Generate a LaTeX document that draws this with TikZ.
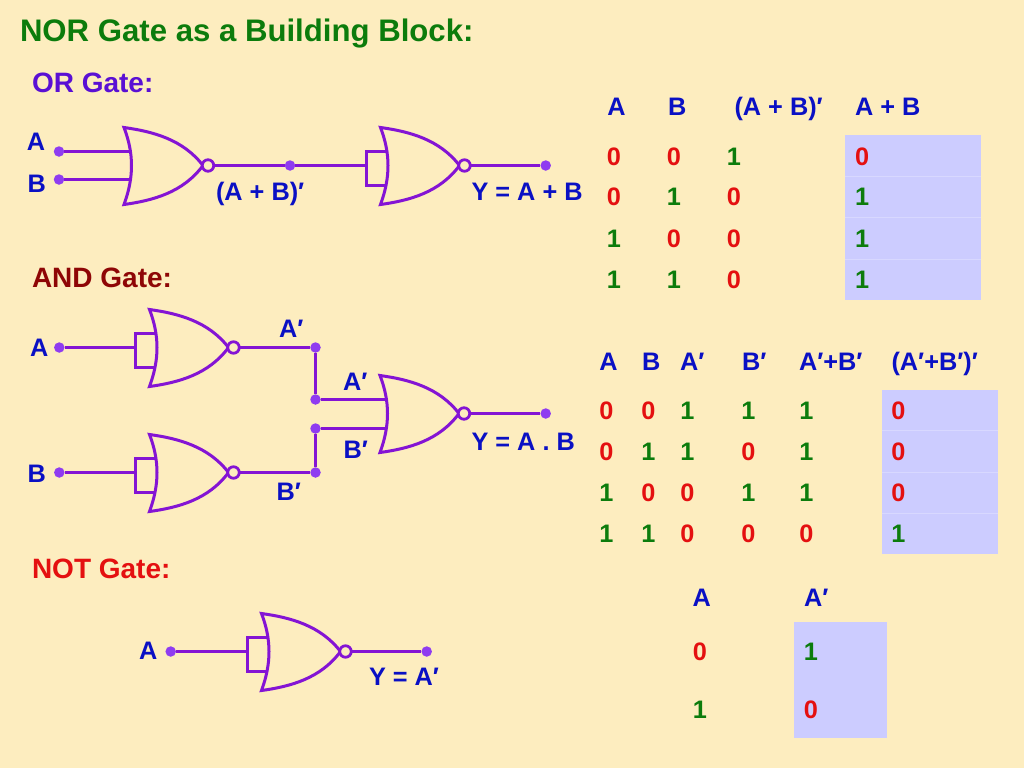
\documentclass[tikz,border=0pt]{standalone}
\usepackage{fontspec}
\setmainfont{Liberation Sans}
\definecolor{bg}{HTML}{FDEDBF}
\definecolor{wire}{HTML}{8414D4}
\definecolor{dotc}{HTML}{8F3CF0}
\definecolor{lblue}{HTML}{0A10C4}
\definecolor{tgreen}{HTML}{0C7C0C}
\definecolor{tred}{HTML}{E41010}
\definecolor{tpurple}{HTML}{5A10D4}
\definecolor{tmaroon}{HTML}{8E0606}
\definecolor{tablefill}{HTML}{CCCCFF}
\definecolor{tablesep}{HTML}{D8D8FF}
\tikzset{
  txt/.style={inner sep=0pt,outer sep=0pt,anchor=base west,font=\fontsize{25.3}{25}\selectfont\bfseries},
  lbl/.style={txt,text=lblue},
  bit0/.style={txt,text=tred},
  bit1/.style={txt,text=tgreen},
  heading/.style={txt,font=\fontsize{28}{28}\selectfont\bfseries},
  title/.style={txt,font=\fontsize{31.15}{31}\selectfont\bfseries,text=tgreen},
  wireline/.style={draw=wire,line width=3pt},
  dot/.style={circle,fill=dotc,inner sep=0pt,outer sep=0pt,minimum size=10.5pt},
  bubble/.style={circle,draw=wire,line width=2.8pt,fill=bg,inner sep=0pt,outer sep=0pt,minimum size=11.5pt},
  tablebox/.style={fill=tablefill},
  tableline/.style={draw=tablesep,line width=0.7pt},
  nor/.pic={
    \draw[wireline,line join=miter] (-5,0) .. controls (-25,-26) and (-55,-34) .. (-84,-38)
      .. controls (-74,-12) and (-74,12) .. (-84,39)
      .. controls (-55,35) and (-25,27) .. (-5,0);
    \node[bubble] (-b) at (0,0) {};
    \coordinate (-in) at (-77,0);
  },
  norshort/.pic={
    \draw[wireline] (-78,-14) -- (-98,-14) -- (-98,20) -- (-78,20);
    \draw[wireline,line join=miter] (-5,0) .. controls (-25,-26) and (-55,-34) .. (-84,-38)
      .. controls (-74,-12) and (-74,12) .. (-84,39)
      .. controls (-55,35) and (-25,27) .. (-5,0);
    \node[bubble] (-b) at (0,0) {};
    \coordinate (-in) at (-98,0);
  }
}
\begin{document}
\begin{tikzpicture}[x=1pt,y=-1pt]
\useasboundingbox (0,0) rectangle (1024,768);
\fill[bg] (0,0) rectangle (1024,768);

% headings
\node[title] (title) at (20,41.5) {NOR Gate as a Building Block:};
\node[heading,text=tpurple] (hor) at (32,92) {OR Gate:};
\node[heading,text=tmaroon] (hand) at (32,287) {AND Gate:};
\node[heading,text=tred] (hnot) at (32,578) {NOT Gate:};

% OR circuit
\pic (g1) at (208,165.5) {nor};
\pic (g2) at (464.5,165.5) {norshort};
\node[dot] (oa) at (59,151.5) {};
\node[dot] (ob) at (59,179.5) {};
\node[dot] (om) at (290,165.5) {};
\node[dot] (oy) at (545.7,165.5) {};
\draw[wireline] (oa) -- (oa -| g1-in);
\draw[wireline] (ob) -- (ob -| g1-in);
\draw[wireline] (g1-b) -- (om);
\draw[wireline] (om) -- (g2-in);
\draw[wireline] (g2-b) -- (oy);
\node[lbl] (loa) at (27,150) {A};
\node[lbl] (lob) at (27.5,192) {B};
\node[lbl] (lom) at (216,200) {(A + B)′};
\node[lbl] (loy) at (471.5,200) {Y = A + B};

% AND circuit
\pic (g3) at (233.5,347.5) {norshort};
\pic (g4) at (233.5,472.5) {norshort};
\pic (g5) at (464,413.5) {nor};
\node[dot] (aa) at (59.3,347.5) {};
\node[dot] (ab) at (59.3,472.5) {};
\node[dot] (a1) at (315.5,347.5) {};
\node[dot] (a2) at (315.5,399.5) {};
\node[dot] (a3) at (315.5,428.5) {};
\node[dot] (a4) at (315.5,472.5) {};
\node[dot] (ay) at (545.7,413.5) {};
\draw[wireline] (aa) -- (g3-in);
\draw[wireline] (ab) -- (g4-in);
\draw[wireline] (g3-b) -- (a1);
\draw[wireline] (a1) -- (a2);
\draw[wireline] (a2) -- (a2 -| g5-in);
\draw[wireline] (g4-b) -- (a4);
\draw[wireline] (a4) -- (a3);
\draw[wireline] (a3) -- (a3 -| g5-in);
\draw[wireline] (g5-b) -- (ay);
\node[lbl] (laa) at (30,356.7) {A};
\node[lbl] (lab) at (27.5,482.7) {B};
\node[lbl] (la1) at (279,337.7) {A′};
\node[lbl] (la4) at (276.5,500) {B′};
\node[lbl] (la2) at (343,390.7) {A′};
\node[lbl] (la3) at (343.5,458.3) {B′};
\node[lbl] (lay) at (471.5,450.7) {Y = A . B};

% NOT circuit
\pic (g6) at (345.5,651.5) {norshort};
\node[dot] (na) at (170.7,651.5) {};
\node[dot] (ny) at (426.7,651.5) {};
\draw[wireline] (na) -- (g6-in);
\draw[wireline] (g6-b) -- (ny);
\node[lbl] (lna) at (139,659.3) {A};
\node[lbl] (lny) at (369,685.7) {Y = A′};

% Table 1
\fill[tablebox] (845,135) rectangle (980.7,299.7);
\foreach \s in {176.7,217.7,259} \draw[tableline] (845,\s) -- (980.7,\s);
\node[lbl] (t1a) at (607.3,115) {A};
\node[lbl] (t1b) at (668,115) {B};
\node[lbl] (t1c) at (734.5,115) {(A + B)′};
\node[lbl] (t1d) at (855,115) {A + B};
\foreach \r/\y/\p/\q/\u/\w in {1/165/0/0/1/0,2/205.7/0/1/0/1,3/247/1/0/0/1,4/288/1/1/0/1}{
  \node[bit\p] (t1-\r-a) at (606.8,\y) {\p};
  \node[bit\q] (t1-\r-b) at (666.8,\y) {\q};
  \node[bit\u] (t1-\r-c) at (726.8,\y) {\u};
  \node[bit\w] (t1-\r-d) at (855,\y) {\w};
}

% Table 2
\fill[tablebox] (881.7,390) rectangle (998.3,554);
\foreach \s in {430.7,472.3,513.3} \draw[tableline] (881.7,\s) -- (998.3,\s);
\node[lbl] (t2a) at (599.3,370) {A};
\node[lbl] (t2b) at (642,370) {B};
\node[lbl] (t2c) at (680,370) {A′};
\node[lbl] (t2d) at (742,370) {B′};
\node[lbl] (t2e) at (799,370) {A′+B′};
\node[lbl] (t2f) at (891.5,370) {(A′+B′)′};
\foreach \r/\y/\p/\q/\u/\v/\w/\z in {1/419.3/0/0/1/1/1/0,2/460/0/1/1/0/1/0,3/501.7/1/0/0/1/1/0,4/542.7/1/1/0/0/0/1}{
  \node[bit\p] (t2-\r-a) at (599.3,\y) {\p};
  \node[bit\q] (t2-\r-b) at (641.3,\y) {\q};
  \node[bit\u] (t2-\r-c) at (680.3,\y) {\u};
  \node[bit\v] (t2-\r-d) at (741.3,\y) {\v};
  \node[bit\w] (t2-\r-e) at (799.3,\y) {\w};
  \node[bit\z] (t2-\r-f) at (891.3,\y) {\z};
}

% Table 3
\fill[tablebox] (793.7,621.7) rectangle (887.3,737.7);
\node[lbl] (t3a) at (692.7,606) {A};
\node[lbl] (t3b) at (804,606) {A′};
\node[bit0] (t3-1-a) at (692.8,660) {0};
\node[bit1] (t3-1-b) at (803.8,660) {1};
\node[bit1] (t3-2-a) at (692.8,718.3) {1};
\node[bit0] (t3-2-b) at (803.8,718.3) {0};
\end{tikzpicture}
\end{document}
